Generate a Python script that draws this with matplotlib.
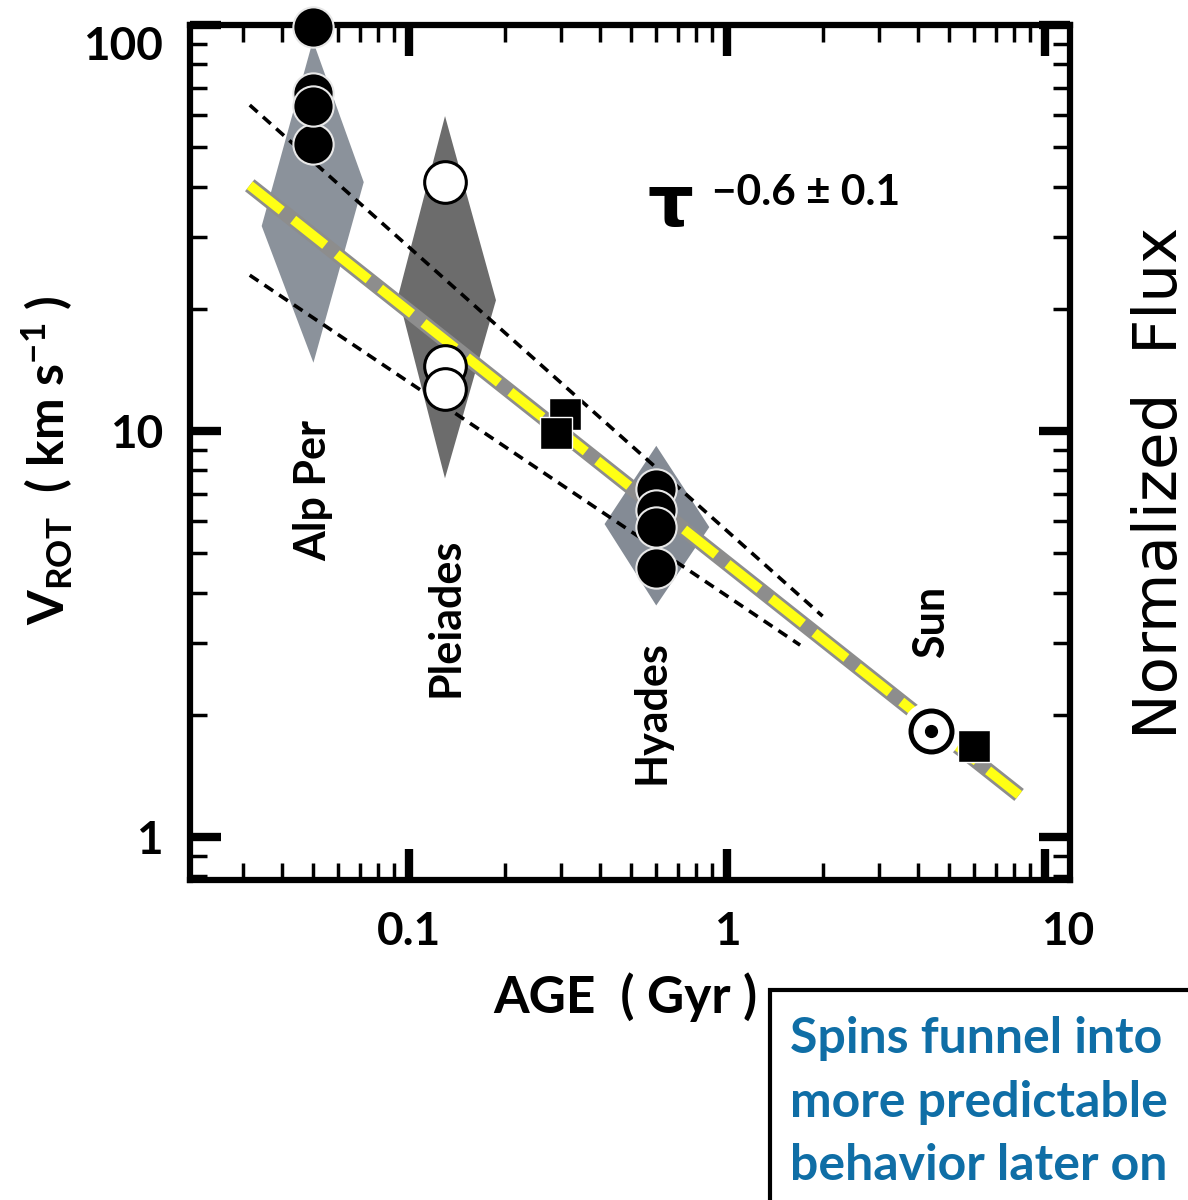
import numpy as np
import matplotlib
matplotlib.use("Agg")
import matplotlib.pyplot as plt
import matplotlib.transforms as mtransforms
from matplotlib.ticker import LogLocator, NullFormatter, FixedLocator, FixedFormatter
from matplotlib.patches import Rectangle

# ---------------- data ----------------
alp_x = [0.05, 0.05, 0.05, 0.05]
alp_y = [51, 99, 68, 63]
ple_x = [0.13, 0.13, 0.13]
ple_y = [41, 14.5, 12.7]
hya_x = [0.6, 0.6, 0.6, 0.6]
hya_y = [4.6, 7.2, 6.4, 5.8]
sq_x = [0.31, 0.29, 6.0]
sq_y = [11.0, 9.9, 1.68]
sun_x = [4.4]
sun_y = [1.83]

fit_x = [0.0316, 8.3]
fit_y = [40.3, 1.27]
upper_x = [0.0316, 2.0]
upper_y = [63.5, 3.5]
lower_x = [0.0316, 1.7]
lower_y = [24.2, 2.97]

alp_diamond_x = [0.05, 0.071, 0.05, 0.035]
alp_diamond_y = [88, 41, 15.3, 32]
ple_diamond_x = [0.13, 0.185, 0.13, 0.094]
ple_diamond_y = [57, 21, 8.0, 21.5]
hya_diamond_x = [0.6, 0.865, 0.6, 0.42]
hya_diamond_y = [9.0, 5.8, 3.8, 5.9]

cluster_names = ["Alp Per", "Pleiades", "Hyades", "Sun"]
cluster_label_x = [0.05, 0.13, 0.58, 4.4]

x_ticks = [0.1, 1, 10]
x_tick_labels = ["0.1", "1", ""]
y_ticks = [1, 10, 100]
y_tick_labels = ["1", "10", ""]

box_lines = ["Spins funnel into", "more predictable", "behavior later on"]

# ---------------- style ----------------
plt.rcParams["font.family"] = ["Lato", "DejaVu Sans"]
plt.rcParams["font.weight"] = "bold"
plt.rcParams["axes.labelweight"] = "bold"
plt.rcParams["mathtext.default"] = "regular"

W, H = 1188, 1200
fig = plt.figure(figsize=(W / 100, H / 100), dpi=100)
fig.patch.set_facecolor("white")
ax = fig.add_axes([190 / W, 1 - 880 / H, 880 / W, 855 / H])
ax.set_xscale("log")
ax.set_yscale("log")
ax.set_xlim(0.0205, 12)
ax.set_ylim(0.784, 100)

# diamonds
for dx, dy, col in [(alp_diamond_x, alp_diamond_y, "#8b929b"),
                    (ple_diamond_x, ple_diamond_y, "#6c6c6c"),
                    (hya_diamond_x, hya_diamond_y, "#848b95")]:
    ax.fill(dx, dy, facecolor=col, edgecolor=col, lw=3, zorder=1)

# dashed envelope lines
for lx, ly in [(upper_x, upper_y), (lower_x, lower_y)]:
    ax.plot(lx, ly, color="black", lw=2.6, dashes=(2.9, 2.0), zorder=2)

# fit line
ax.plot(fit_x, fit_y, color="#8d8d8d", lw=11, solid_capstyle="butt", zorder=3)
ax.plot(fit_x, fit_y, color="#ffff14", lw=7, dashes=(4.2, 1.5),
        dash_capstyle="butt", zorder=4)

# data points
ax.plot(alp_x, alp_y, "o", ms=29, mfc="black", mec="#e8e8e8", mew=1.5,
        ls="none", zorder=5, clip_on=False)
ax.plot(ple_x, ple_y, "o", ms=30, mfc="white", mec="black", mew=2.2,
        ls="none", zorder=5)
ax.plot(hya_x, hya_y, "o", ms=29, mfc="black", mec="#e8e8e8", mew=1.5,
        ls="none", zorder=5)

# Sun symbol
ax.plot(sun_x, sun_y, "o", ms=43, mfc="white", mec="none", ls="none", zorder=6)
ax.plot(sun_x, sun_y, "o", ms=29.5, mfc="white", mec="black", mew=3.6,
        ls="none", zorder=7)
ax.plot(sun_x, sun_y, "o", ms=8.5, mfc="black", mec="black", ls="none", zorder=8)

# squares
ax.plot(sq_x, sq_y, "s", ms=22.5, mfc="black", mec="white", mew=1,
        ls="none", zorder=9)

# cluster labels
label_axes_y = [0.456, 0.3076, 0.196, 0.302]
trans = mtransforms.blended_transform_factory(ax.transData, ax.transAxes)
for name, lx, ly in zip(cluster_names, cluster_label_x, label_axes_y):
    ax.text(lx, ly, name, rotation=90, ha="center", va="center",
            fontsize=31, transform=trans, zorder=10)

# tau annotation
ax.text(0.5455, 0.788, "\u03c4", transform=ax.transAxes, fontsize=52,
        ha="center", va="center", fontweight="bold",
        family=["DejaVu Sans"])
ax.text(0.5932, 0.7895, "\u22120.6 \u00b1 0.1", transform=ax.transAxes,
        fontsize=30.5, ha="left", va="baseline")

# spines & ticks
for s in ax.spines.values():
    s.set_linewidth(4.5)
ax.xaxis.set_major_locator(FixedLocator(x_ticks))
ax.xaxis.set_major_formatter(FixedFormatter(x_tick_labels))
ax.yaxis.set_major_locator(FixedLocator(y_ticks))
ax.yaxis.set_major_formatter(FixedFormatter(y_tick_labels))
ax.xaxis.set_minor_locator(LogLocator(base=10, subs=np.arange(2, 10), numticks=100))
ax.yaxis.set_minor_locator(LogLocator(base=10, subs=np.arange(2, 10), numticks=100))
ax.xaxis.set_minor_formatter(NullFormatter())
ax.yaxis.set_minor_formatter(NullFormatter())
ax.tick_params(which="major", direction="in", length=22, width=6,
               top=True, right=True, labelsize=33)
ax.tick_params(axis="x", which="major", pad=22)
ax.tick_params(axis="y", which="major", pad=19.5)
ax.tick_params(which="minor", direction="in", length=12, width=2.5,
               top=True, right=True)

# end labels drawn slightly off their ticks as in the reference
ax.text(0.9977, -0.0358, "10", transform=ax.transAxes, fontsize=33,
        ha="center", va="top")
ax.text(-0.0307, 0.974, "100", transform=ax.transAxes, fontsize=33,
        ha="right", va="center")

# axis labels
ax.set_xlabel("AGE  ( Gyr )", fontsize=37, fontweight="bold", va="center")
ax.xaxis.set_label_coords(0.4943, -0.1368)
ax.set_ylabel(r"V$_{ROT}$  ( km s$^{-1}$ )", fontsize=36,
              fontweight="bold", va="center")
ax.yaxis.set_label_coords(-0.1625, 0.491)

# right side label
fig.text(1160 / W, 1 - 483 / H, "Normalized  Flux", rotation=90,
         ha="center", va="center", fontsize=44, fontweight="normal",
         family=["DejaVu Sans"])

# text box
fig.add_artist(Rectangle((770 / W, -0.05), 0.5, (1200 - 990) / H + 0.05,
                         transform=fig.transFigure, fill=False,
                         edgecolor="black", lw=3, clip_on=False))
for line, by in zip(box_lines, [1053, 1117, 1180]):
    fig.text(790 / W, 1 - by / H, line, ha="left", va="baseline",
             fontsize=36, color="#0f6ea6", fontweight="bold")

fig.savefig("out.png", dpi=100, facecolor="white")
